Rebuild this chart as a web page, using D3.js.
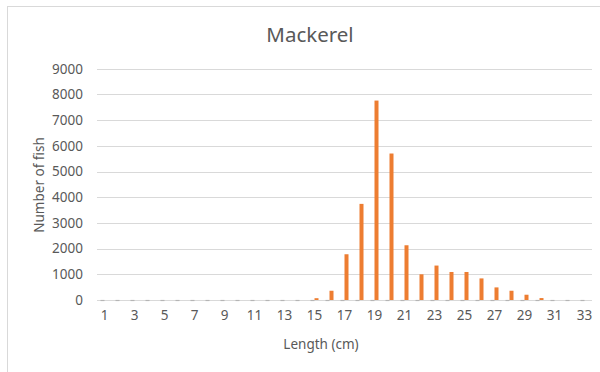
<!DOCTYPE html>
<html>
<head>
<meta charset="utf-8">
<script src="https://cdn.jsdelivr.net/npm/d3@7"></script>
<style>
  html, body { margin: 0; padding: 0; background: #fff; }
  svg { display: block; font-family: "Noto Sans", "Liberation Sans", sans-serif; }
</style>
</head>
<body>
<svg id="chart" width="600" height="372"></svg>
<script>
// Length classes (cm) and catch counts per class
const lengths = d3.range(1, 34);
const counts = [0, 0, 0, 0, 0, 0, 0, 0, 0, 0, 0, 0, 0, 0,
                70, 360, 1780, 3740, 7760, 5700, 2130, 1000, 1340, 1090,
                1090, 840, 490, 360, 205, 75, 0, 0, 0];
const yTicks = [0, 1000, 2000, 3000, 4000, 5000, 6000, 7000, 8000, 9000];
const xTickLabels = lengths.filter(d => d % 2 === 1);

const chartTitle = "Mackerel";
const xTitle = "Length (cm)";
const yTitle = "Number of fish";

const svg = d3.select("#chart");
const textColor = "#595959";
const gridColor = "#d9d9d9";
const barColor = "#ed7d31";
const labelSize = 13.5;

const plot = { left: 97, right: 592, top: 68.7, bottom: 300 };

// Outer chart frame
svg.append("rect")
  .attr("x", 7.5).attr("y", 6.5)
  .attr("width", 640).attr("height", 400)
  .attr("fill", "#fff").attr("stroke", gridColor).attr("stroke-width", 1);

const x = d3.scaleBand()
  .domain(lengths)
  .range([plot.left, plot.right]);

const y = d3.scaleLinear()
  .domain([0, 9000])
  .range([plot.bottom, plot.top]);

// Horizontal gridlines
svg.append("g")
  .selectAll("line")
  .data(yTicks)
  .join("line")
  .attr("x1", plot.left).attr("x2", plot.right)
  .attr("y1", d => Math.round(y(d)) + 0.5)
  .attr("y2", d => Math.round(y(d)) + 0.5)
  .attr("stroke", gridColor).attr("stroke-width", 1);

// Y axis labels
const yAxis = d3.axisLeft(y).tickValues(yTicks).tickSize(0).tickPadding(0).tickFormat(d3.format("d"));
const gy = svg.append("g").attr("transform", `translate(${plot.left - 14},0)`).call(yAxis);
gy.select(".domain").remove();
gy.selectAll("text")
  .attr("fill", textColor)
  .attr("font-size", labelSize)
  .attr("font-family", "'Noto Sans', 'Liberation Sans', sans-serif");

// Small marks along the category axis
const barW = 4;
svg.append("g")
  .selectAll("line")
  .data(lengths)
  .join("line")
  .attr("x1", d => x(d) + x.bandwidth() / 2 - barW)
  .attr("x2", d => x(d) + x.bandwidth() / 2)
  .attr("y1", y(0) + 0.5).attr("y2", y(0) + 0.5)
  .attr("stroke", "#b5b5b5").attr("stroke-width", 1.2);

// Bars
svg.append("g")
  .selectAll("rect")
  .data(lengths.map((l, i) => ({ l, v: counts[i] })).filter(d => d.v > 0))
  .join("rect")
  .attr("x", d => x(d.l) + x.bandwidth() / 2)
  .attr("width", barW)
  .attr("y", d => y(d.v))
  .attr("height", d => y(0) - y(d.v))
  .attr("fill", barColor);

// X axis labels
const xAxis = d3.axisBottom(x).tickValues(xTickLabels).tickSize(0).tickPadding(0);
const gx = svg.append("g").attr("transform", `translate(0,${plot.bottom + 10})`).call(xAxis);
gx.select(".domain").remove();
gx.selectAll("text")
  .attr("fill", textColor)
  .attr("font-size", labelSize)
  .attr("font-family", "'Noto Sans', 'Liberation Sans', sans-serif");

// Titles
svg.append("text")
  .attr("x", 310).attr("y", 42)
  .attr("text-anchor", "middle")
  .attr("font-size", 20.5)
  .attr("fill", textColor)
  .text(chartTitle);

svg.append("text")
  .attr("x", 321).attr("y", 349)
  .attr("text-anchor", "middle")
  .attr("font-size", 13.5)
  .attr("fill", textColor)
  .text(xTitle);

svg.append("text")
  .attr("transform", "translate(44,185) rotate(-90)")
  .attr("text-anchor", "middle")
  .attr("font-size", 13.5)
  .attr("fill", textColor)
  .text(yTitle);
</script>
</body>
</html>
